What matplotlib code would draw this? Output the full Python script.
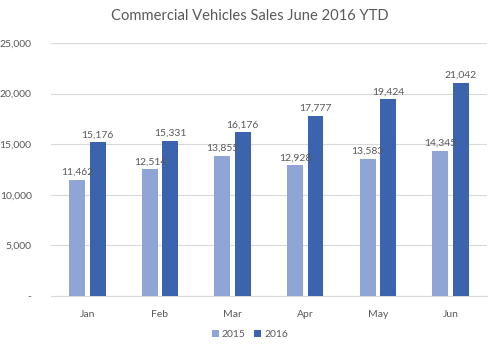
import numpy as np
import matplotlib
matplotlib.use('Agg')
import matplotlib.pyplot as plt
from matplotlib.ticker import FuncFormatter

months = ['Jan', 'Feb', 'Mar', 'Apr', 'May', 'Jun']
sales_2015 = [11462, 12514, 13855, 12928, 13583, 14345]
sales_2016 = [15176, 15331, 16176, 17777, 19424, 21042]

plt.rcParams['font.family'] = ['Lato', 'DejaVu Sans']

c15 = '#8FA5D6'
c16 = '#3C64AE'
txt = '#595959'

fig = plt.figure(figsize=(5, 3.5), dpi=100)
ax = fig.add_axes([0.102, 0.154, 0.872, 0.723])

x = np.arange(len(months))
w = 0.22
gap = 0.03
b1 = ax.bar(x - w/2 - gap, sales_2015, w, color=c15, label='2015', zorder=3)
b2 = ax.bar(x + w/2 + gap, sales_2016, w, color=c16, label='2016', zorder=3)

for rect, v in zip(b1, sales_2015):
    ax.text(rect.get_x() + rect.get_width()/2, v + 300, f'{v:,}',
            ha='center', va='bottom', fontsize=7.5, color=txt)
for rect, v in zip(b2, sales_2016):
    ax.text(rect.get_x() + rect.get_width()/2, v + 300, f'{v:,}',
            ha='center', va='bottom', fontsize=7.5, color=txt)

ax.set_ylim(0, 25000)
ax.set_xlim(-0.5, 5.5)
ax.set_yticks(range(0, 25001, 5000))
ax.yaxis.set_major_formatter(FuncFormatter(lambda v, p: '-' if v == 0 else f'{int(v):,}'))
ax.set_xticks(x)
ax.set_xticklabels(months)
ax.tick_params(axis='both', length=0, labelsize=7.5, colors=txt)
ax.tick_params(axis='x', pad=10)
ax.tick_params(axis='y', pad=14)
ax.grid(axis='y', color='#D9D9D9', linewidth=0.8, zorder=0)
for s in ['top', 'right', 'left']:
    ax.spines[s].set_visible(False)
ax.spines['bottom'].set_color('#D9D9D9')

fig.suptitle('Commercial Vehicles Sales June 2016 YTD', y=0.975, fontsize=10.6, color=txt)
fig.legend(loc='lower center', bbox_to_anchor=(0.5, 0.005), ncol=2, frameon=False,
           fontsize=7.5, handlelength=0.7, handleheight=0.7, handletextpad=0.3,
           columnspacing=0.8, labelcolor=txt)

plt.savefig('out.png')
